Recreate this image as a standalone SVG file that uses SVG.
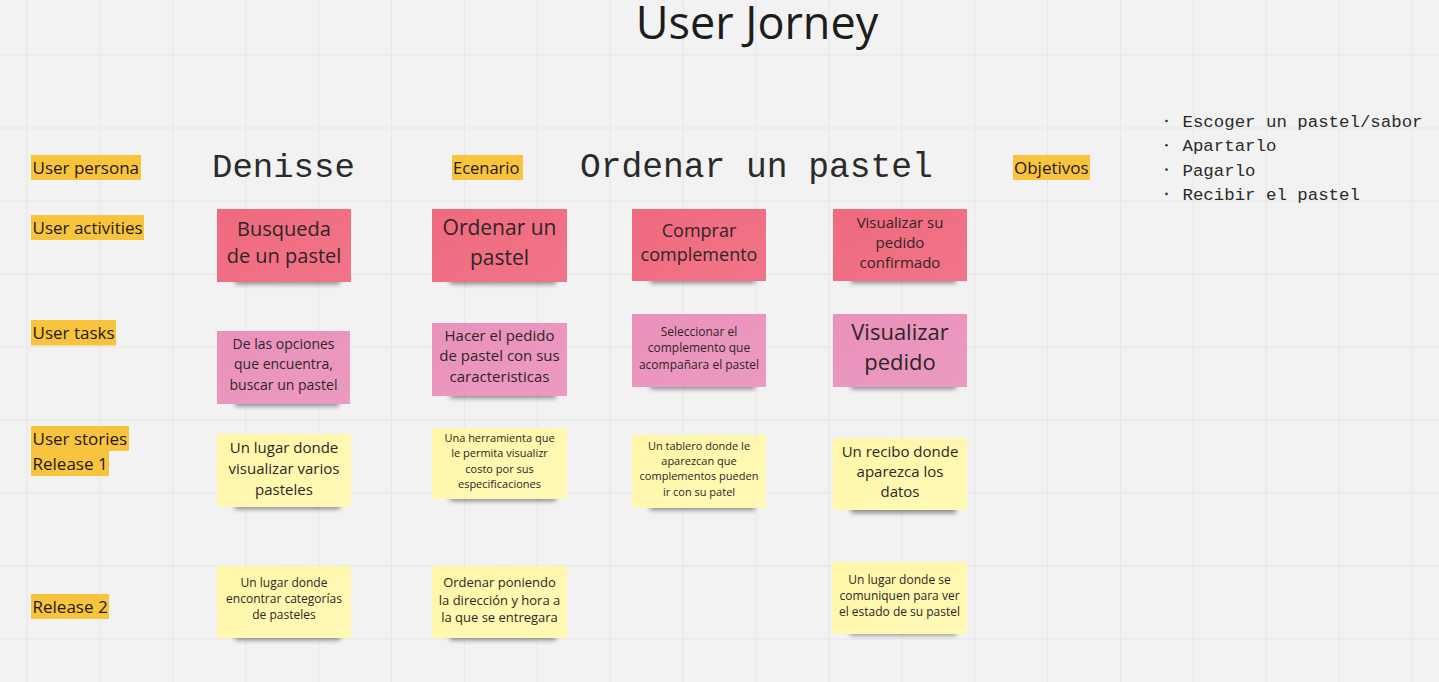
<svg xmlns="http://www.w3.org/2000/svg" width="1439" height="682" viewBox="0 0 1439 682">
<style>
.lbl{font-family:"Open Sans","Liberation Sans",sans-serif;font-size:17px;fill:#1f1a14}
.hl{fill:#F8C33D}
.mono{font-family:"Liberation Mono","DejaVu Sans Mono",monospace;fill:#2a2a2a}
.nt{font-family:"Open Sans","Liberation Sans",sans-serif;fill:#2e2626;text-anchor:middle}
.red{fill:url(#gRed)}
.pink{fill:url(#gPink)}
.yel{fill:url(#gYel)}
.sh{fill:#000;opacity:.45;filter:url(#blur)}
</style>
<defs>
<pattern id="grid" patternUnits="userSpaceOnUse" x="26.5" y="54.5" width="72.9" height="73">
<path d="M0 0.5H72.9M0.5 0V73" stroke="#e6e6e6" stroke-width="1" fill="none"/>
</pattern>
<filter id="blur" x="-20%" y="-100%" width="140%" height="300%"><feGaussianBlur stdDeviation="2.8"/></filter>
<linearGradient id="gRed" x1="0" y1="0" x2="1" y2="1"><stop offset="0" stop-color="#EF6A7E"/><stop offset="1" stop-color="#F27488"/></linearGradient>
<linearGradient id="gPink" x1="0" y1="0" x2="1" y2="1"><stop offset="0" stop-color="#E991BA"/><stop offset="1" stop-color="#EC9AC1"/></linearGradient>
<linearGradient id="gYel" x1="0" y1="0" x2="1" y2="1"><stop offset="0" stop-color="#FFF6A8"/><stop offset="1" stop-color="#FFF9B6"/></linearGradient>
</defs>
<rect width="1439" height="682" fill="#f2f2f2"/>
<rect width="1439" height="682" fill="url(#grid)"/>

<g id="title"><text x="757" y="39" text-anchor="middle" style="font-family:'Open Sans','Liberation Sans',sans-serif;font-size:45px;fill:#1c1c1c">User Jorney</text></g>

<g id="label-user-persona"><rect class="hl" x="31" y="155" width="110" height="25"/><text class="lbl" x="32.5" y="174">User persona</text></g>
<g id="label-user-activities"><rect class="hl" x="31" y="215" width="113" height="25"/><text class="lbl" x="32.5" y="234">User activities</text></g>
<g id="label-user-tasks"><rect class="hl" x="31" y="320" width="85" height="25.5"/><text class="lbl" x="32.5" y="339">User tasks</text></g>
<g id="label-user-stories"><rect class="hl" x="31" y="426" width="98" height="25"/><rect class="hl" x="31" y="451" width="78" height="25"/><text class="lbl" x="32.5" y="445">User stories</text><text class="lbl" x="32.5" y="470">Release 1</text></g>
<g id="label-release-2"><rect class="hl" x="31" y="594" width="78" height="25"/><text class="lbl" x="32.5" y="613">Release 2</text></g>
<g id="label-ecenario"><rect class="hl" x="452" y="155" width="71" height="25"/><text class="lbl" x="453" y="174" style="font-size:16.5px">Ecenario</text></g>
<g id="label-objetivos"><rect class="hl" x="1013" y="155" width="77" height="25"/><text class="lbl" x="1014" y="174">Objetivos</text></g>

<g id="persona-name"><text class="mono" x="212" y="177" style="font-size:34px">Denisse</text></g>
<g id="scenario-name"><text class="mono" x="580" y="177" style="font-size:34.6px">Ordenar un pastel</text></g>

<g id="objectives-list">
<circle cx="1166.5" cy="121" r="1.3" fill="#333"/><text class="mono" x="1182.5" y="127" style="font-size:17.4px">Escoger un pastel/sabor</text>
<circle cx="1166.5" cy="145.3" r="1.3" fill="#333"/><text class="mono" x="1182.5" y="151.3" style="font-size:17.4px">Apartarlo</text>
<circle cx="1166.5" cy="169.6" r="1.3" fill="#333"/><text class="mono" x="1182.5" y="175.6" style="font-size:17.4px">Pagarlo</text>
<circle cx="1166.5" cy="193.9" r="1.3" fill="#333"/><text class="mono" x="1182.5" y="199.9" style="font-size:17.4px">Recibir el pastel</text>
</g>

<!-- Activities -->
<g id="act-busqueda"><rect class="sh" x="235" y="274" width="105" height="10"/><rect class="red" x="217" y="209" width="134" height="73"/>
<text class="nt" x="284" y="235.6" font-size="20">Busqueda</text><text class="nt" x="284" y="263.3" font-size="20">de un pastel</text></g>
<g id="act-ordenar"><rect class="sh" x="450" y="274" width="106" height="10"/><rect class="red" x="432" y="209" width="135" height="73"/>
<text class="nt" x="499.5" y="234.6" font-size="21">Ordenar un</text><text class="nt" x="499.5" y="265" font-size="21">pastel</text></g>
<g id="act-comprar"><rect class="sh" x="650" y="273" width="105" height="10"/><rect class="red" x="632" y="209" width="134" height="72"/>
<text class="nt" x="699" y="237" font-size="18">Comprar</text><text class="nt" x="699" y="261" font-size="18">complemento</text></g>
<g id="act-visualizar"><rect class="sh" x="851" y="273" width="105" height="10"/><rect class="red" x="833" y="209" width="134" height="72"/>
<text class="nt" x="900" y="228.3" font-size="15">Visualizar su</text><text class="nt" x="900" y="248.3" font-size="15">pedido</text><text class="nt" x="900" y="268.3" font-size="15">confirmado</text></g>

<!-- Tasks -->
<g id="task-opciones"><rect class="sh" x="235" y="396" width="104" height="10"/><rect class="pink" x="217" y="331" width="133" height="73"/>
<text class="nt" x="283.5" y="348.6" font-size="14">De las opciones</text><text class="nt" x="283.5" y="369" font-size="14">que encuentra,</text><text class="nt" x="283.5" y="389.6" font-size="14">buscar un pastel</text></g>
<g id="task-pedido"><rect class="sh" x="450" y="388" width="106" height="10"/><rect class="pink" x="432" y="323" width="135" height="73"/>
<text class="nt" x="499.5" y="341" font-size="15">Hacer el pedido</text><text class="nt" x="499.5" y="361" font-size="15">de pastel con sus</text><text class="nt" x="499.5" y="381.7" font-size="15">caracteristicas</text></g>
<g id="task-seleccionar"><rect class="sh" x="650" y="379" width="105" height="10"/><rect class="pink" x="632" y="314" width="134" height="73"/>
<text class="nt" x="699" y="336.3" font-size="12">Seleccionar el</text><text class="nt" x="699" y="352.3" font-size="12">complemento que</text><text class="nt" x="699" y="369" font-size="12">acompañara el pastel</text></g>
<g id="task-visualizar"><rect class="sh" x="851" y="379" width="105" height="10"/><rect class="pink" x="833" y="314" width="134" height="73"/>
<text class="nt" x="900" y="340" font-size="22">Visualizar</text><text class="nt" x="900" y="369.6" font-size="22">pedido</text></g>

<!-- Release 1 -->
<g id="story-lugar-visualizar"><rect class="sh" x="235" y="499" width="105" height="10"/><rect class="yel" x="217" y="434" width="134" height="73"/>
<text class="nt" x="284" y="453.3" font-size="15">Un lugar donde</text><text class="nt" x="284" y="474.3" font-size="15">visualizar varios</text><text class="nt" x="284" y="495" font-size="15">pasteles</text></g>
<g id="story-herramienta"><rect class="sh" x="450" y="491" width="106" height="10"/><rect class="yel" x="432" y="428" width="135" height="71"/>
<text class="nt" x="499.5" y="442" font-size="11">Una herramienta que</text><text class="nt" x="499.5" y="457.3" font-size="11">le permita visualizr</text><text class="nt" x="499.5" y="472.6" font-size="11">costo por sus</text><text class="nt" x="499.5" y="487.9" font-size="11">especificaciones</text></g>
<g id="story-tablero"><rect class="sh" x="650" y="500" width="105" height="10"/><rect class="yel" x="632" y="435" width="134" height="73"/>
<text class="nt" x="699" y="449.6" font-size="11">Un tablero donde le</text><text class="nt" x="699" y="464.9" font-size="11">aparezcan que</text><text class="nt" x="699" y="480.2" font-size="11">complementos pueden</text><text class="nt" x="699" y="495.5" font-size="11">ir con su patel</text></g>
<g id="story-recibo"><rect class="sh" x="851" y="503" width="105" height="10"/><rect class="yel" x="833" y="438" width="134" height="72"/>
<text class="nt" x="900" y="456.7" font-size="15">Un recibo donde</text><text class="nt" x="900" y="477" font-size="15">aparezca los</text><text class="nt" x="900" y="497.3" font-size="15">datos</text></g>

<!-- Release 2 -->
<g id="story-categorias"><rect class="sh" x="235" y="630" width="105" height="10"/><rect class="yel" x="217" y="566" width="134" height="72"/>
<text class="nt" x="284" y="587" font-size="12">Un lugar donde</text><text class="nt" x="284" y="603" font-size="12">encontrar categorías</text><text class="nt" x="284" y="619" font-size="12">de pasteles</text></g>
<g id="story-direccion"><rect class="sh" x="450" y="630" width="106" height="10"/><rect class="yel" x="432" y="566" width="135" height="72"/>
<text class="nt" x="499.5" y="587" font-size="13">Ordenar poniendo</text><text class="nt" x="499.5" y="604.5" font-size="13">la dirección y hora a</text><text class="nt" x="499.5" y="622" font-size="13">la que se entregara</text></g>
<g id="story-comuniquen"><rect class="sh" x="850" y="625" width="106" height="10"/><rect class="yel" x="832" y="562" width="135" height="72"/>
<text class="nt" x="899.5" y="583.5" font-size="12">Un lugar donde se</text><text class="nt" x="899.5" y="599.5" font-size="12">comuniquen para ver</text><text class="nt" x="899.5" y="615.5" font-size="12">el estado de su pastel</text></g>

<g id="connectors"/>
</svg>
